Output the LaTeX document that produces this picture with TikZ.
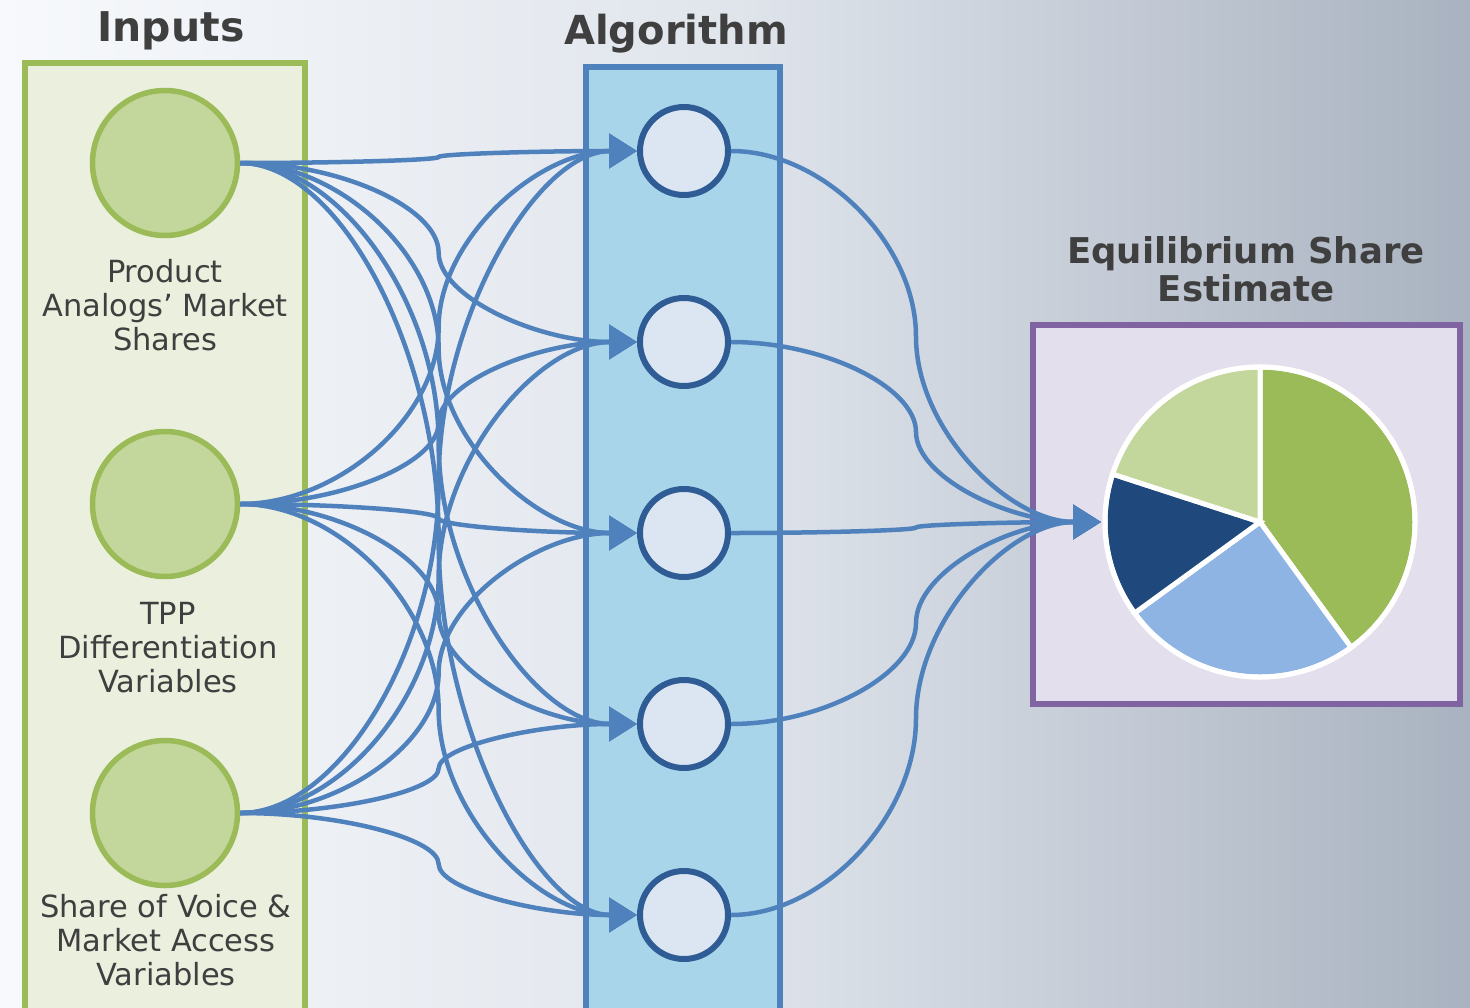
\documentclass[tikz,border=0pt]{standalone}
\usepackage{fontspec}
\setmainfont{DejaVu Sans}
\usetikzlibrary{arrows.meta,calc}
\definecolor{bgL}{HTML}{F7F9FC}
\definecolor{bgM}{HTML}{E0E5EC}
\definecolor{bgR}{HTML}{A9B2C0}
\definecolor{grn}{HTML}{9BBB59}
\definecolor{grnlt}{HTML}{C3D69B}
\definecolor{grnbg}{HTML}{EBF0DE}
\definecolor{algbg}{HTML}{A8D5EA}
\definecolor{algln}{HTML}{4F81BD}
\definecolor{hidfill}{HTML}{DCE6F2}
\definecolor{hidln}{HTML}{2F5C94}
\definecolor{purp}{HTML}{8064A2}
\definecolor{purpbg}{HTML}{E4DFEC}
\definecolor{darkb}{HTML}{1F497D}
\definecolor{ltb}{HTML}{8EB4E3}
\definecolor{txt}{HTML}{3F3F3F}
\newcommand\curveconn[2]{%
  \path (#1) -- (#2) coordinate[pos=0.25] (q1) coordinate[pos=0.5] (q2) coordinate[pos=0.75] (q3);
  \draw[link] (#1) .. controls (q1 |- #1) and (q2 |- q1) .. (q2) .. controls (q2 |- q3) and (q3 |- #2) .. (#2);}
\begin{document}
\begin{tikzpicture}[x=1pt,y=-1pt,
  incirc/.style={circle, draw=grn, fill=grnlt, line width=5.5pt, minimum size=145pt, inner sep=0pt},
  hidcirc/.style={circle, draw=hidln, fill=hidfill, line width=6pt, minimum size=88pt, inner sep=0pt},
  lbl/.style={align=center, text=txt, inner sep=0pt, font=\fontsize{30.5}{34}\selectfont},
  ttl/.style={align=center, text=txt, inner sep=0pt},
  link/.style={draw=algln, line width=4.5pt, -{Triangle[length=28pt,width=34pt]}}
]
\useasboundingbox (0,0) rectangle (1470,1007);
\shade[left color=bgL, right color=bgM] (0,0) rectangle (735,1007);
\shade[left color=bgM, right color=bgR] (735,0) rectangle (1470,1007);
% boxes
\draw[draw=grn, fill=grnbg, line width=5.5pt] (25,1020) -- (25,63) -- (305,63) -- (305,1020);
\draw[draw=algln, fill=algbg, line width=5.5pt] (586,1020) -- (586,67) -- (780,67) -- (780,1020);
\draw[draw=purp, fill=purpbg, line width=5.5pt] (1033,325) rectangle (1460,704);
% titles
\node[ttl, font=\bfseries\fontsize{41}{42}\selectfont] (tin) at (171,31) {Inputs};
\node[ttl, font=\bfseries\fontsize{40}{42}\selectfont] (talg) at (676,34) {Algorithm};
\node[ttl, font=\bfseries\fontsize{35.5}{38}\selectfont] (tout) at (1246,269) {Equilibrium Share\\Estimate};
% input nodes
\node[incirc] (i1) at (165,163) {};
\node[incirc] (i2) at (165,504) {};
\node[incirc] (i3) at (165,813) {};
\node[lbl] (l1) at (165,305) {Product\\Analogs’ Market\\Shares};
\node[lbl] (l2) at (168,648) {TPP\\Differentiation\\Variables};
\node[lbl] (l3) at (166,940) {Share of Voice \&\\Market Access\\Variables};
% hidden nodes
\foreach \k/\yy in {1/151,2/342,3/533,4/724,5/915}{
  \node[hidcirc] (h\k) at (684,\yy) {};
}
% pie
\begin{scope}[shift={(1260,522)}, yscale=-1]
  \filldraw[fill=grn, draw=white, line width=5pt] (0,0) -- (90:155) arc[start angle=90, end angle=-54, radius=155] -- cycle;
  \filldraw[fill=ltb, draw=white, line width=5pt] (0,0) -- (-54:155) arc[start angle=-54, end angle=-144, radius=155] -- cycle;
  \filldraw[fill=darkb, draw=white, line width=5pt] (0,0) -- (-144:155) arc[start angle=-144, end angle=-198, radius=155] -- cycle;
  \filldraw[fill=grnlt, draw=white, line width=5pt] (0,0) -- (162:155) arc[start angle=162, end angle=90, radius=155] -- cycle;
  \draw[white, line width=5pt] (0,0) circle[radius=155];
\end{scope}
\coordinate (pin) at (1101,522);
% connectors
\foreach \a in {1,2,3}{
  \foreach \b in {1,2,3,4,5}{
    \curveconn{i\a.east}{h\b.west}
  }
}
\foreach \b in {1,2,3,4,5}{
  \curveconn{h\b.east}{pin}
}
\end{tikzpicture}
\end{document}
